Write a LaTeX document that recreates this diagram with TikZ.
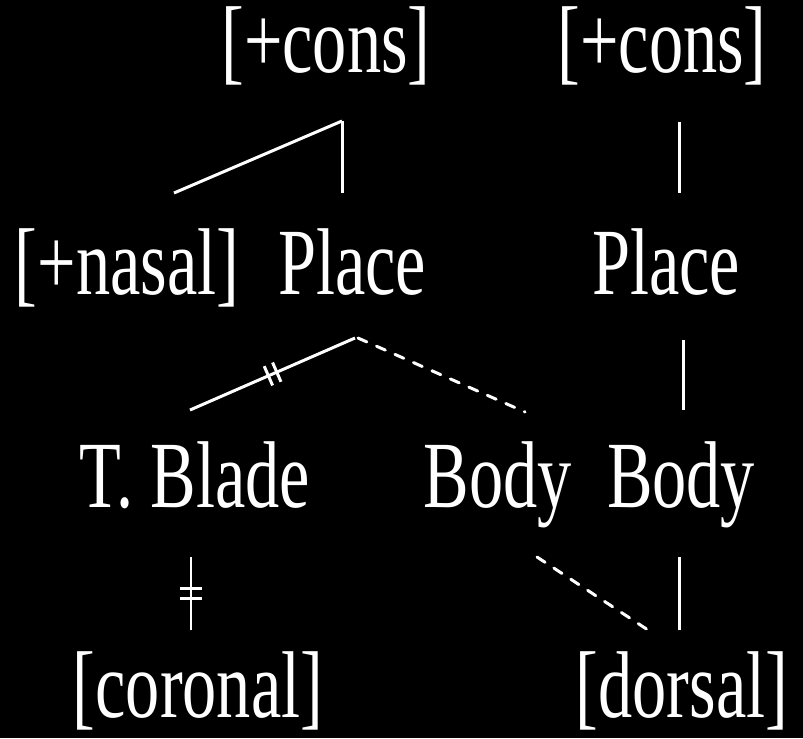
\documentclass[tikz,border=0pt]{standalone}
\usepackage{fontspec}
\setmainfont[FakeStretch=0.72]{Liberation Serif}
\usetikzlibrary{calc,decorations.markings}

\begin{document}
\begin{tikzpicture}[x=0.02cm, y=-0.02cm,
		feat/.style={
			text=white,
			inner sep=0pt,
			anchor=base,
			font=\fontsize{54}{60}\selectfont},
		assoc/.style={
			draw=white,
			line width=1.7pt},
		spread/.style={
			assoc,
			line cap=round,
			dash pattern=on 5.5pt off 6pt},
		delink/.style={
			postaction={decorate, decoration={markings,
				mark=at position .5 with {\draw[white, line width=1.7pt]
					(-2.6pt,-6pt) -- (-2.6pt,6pt) (2.6pt,-6pt) -- (2.6pt,6pt);}}}}]

		\fill[black] (0,0) rectangle (803,738);

		\node (cons1) [feat] at (326,72) {[+cons]};
		\node (cons2) [feat] at (662,72) {[+cons]};

		\node (nasal) [feat] at (127,294) {[+nasal]};
		\node (place1) [feat] at (352,294) {Place};
		\node (place2) [feat] at (666,294) {Place};

		\node (blade) [feat] at (195,507) {T. Blade};
		\node (body1) [feat] at (498,507) {Body};
		\node (body2) [feat] at (681,507) {Body};

		\node (coronal) [feat] at (198,717) {[coronal]};
		\node (dorsal) [feat] at (682,717) {[dorsal]};

		\draw [assoc] ($(cons1.base)+(16,49)$) -- ($(nasal.base)+(47,-101)$);
		\draw [assoc] ($(cons1.base)+(16,49)$) -- ($(place1.base)+(-10,-101)$);
		\draw [assoc] ($(cons2.base)+(17,50)$) -- ($(place2.base)+(13,-101)$);

		\draw [assoc, delink] ($(place1.base)+(3,44)$) -- ($(blade.base)+(-5,-97)$);
		\draw [spread] ($(place1.base)+(6,44)$) -- ($(body1.base)+(27,-95)$);
		\draw [assoc] ($(place2.base)+(17,46)$) -- ($(body2.base)+(2,-97)$);

		\draw [assoc, delink] ($(blade.base)+(-4,50)$) -- ($(coronal.base)+(-7,-87)$);
		\draw [spread] ($(body1.base)+(39,50)$) -- ($(dorsal.base)+(-34,-87)$);
		\draw [assoc] ($(body2.base)+(-2,50)$) -- ($(dorsal.base)+(-3,-87)$);
	\end{tikzpicture}
\end{document}
